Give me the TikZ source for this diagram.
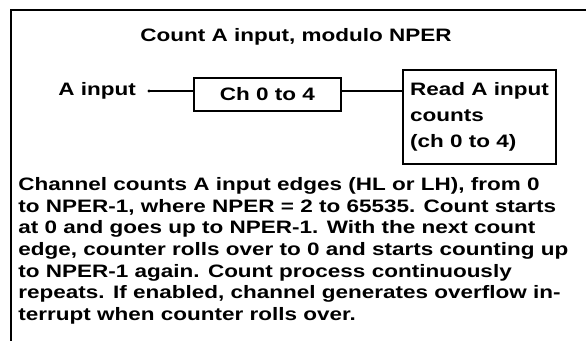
\documentclass[tikz,border=0pt]{standalone}
\usepackage{fontspec}
\setmainfont{Liberation Sans}[FakeStretch=1.25]
\begin{document}
\begin{tikzpicture}[x=0.5pt,y=-0.5pt,
  every node/.style={font=\bfseries\fontsize{9}{10.85}\selectfont, inner sep=0pt},
  blk/.style={draw, line width=1pt}]

\useasboundingbox (0,0) rectangle (586,341);

% frame
\draw[line width=1pt] (11,341) -- (11,10) -- (586,10);

\node at (296,37) (title){Count A input, modulo NPER};

\node[anchor=west] at (58,91) (ain){A input};
\coordinate (ainend) at (149,91);
\node[blk, minimum width=73.5pt, minimum height=16.5pt] at (267.5,94.5) (ch){Ch 0 to 4};
\node[blk, anchor=north west, minimum width=76.5pt, minimum height=47pt, align=left,
  font=\bfseries\fontsize{9}{13}\selectfont] at (402,69) (rd){Read A input\\counts\\(ch 0 to 4)};

\fill (ainend) circle (1.6);
\draw[line width=1pt] (ainend) -- (ainend -| ch.west);
\draw[line width=1pt] (ch.east |- ainend) -- (ainend -| rd.west);

% description
\node[anchor=north west, align=left] at (18,177) (desc){Channel counts A input edges (HL or LH), from 0\\
to NPER-1, where NPER = 2 to 65535. Count starts\\
at 0 and goes up to NPER-1. With the next count\\
edge, counter rolls over to 0 and starts counting up\\
to NPER-1 again. Count process continuously\\
repeats. If enabled, channel generates overflow in-\\
terrupt when counter rolls over.};

\end{tikzpicture}
\end{document}
